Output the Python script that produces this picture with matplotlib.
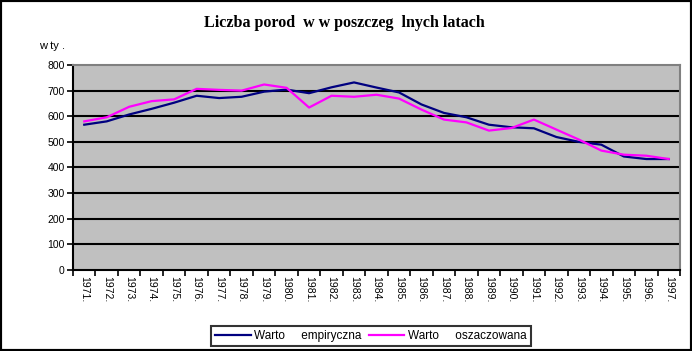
import numpy as np
import matplotlib.pyplot as plt
from matplotlib.patches import Rectangle

years = ['1971.', '1972.', '1973.', '1974.', '1975.', '1976.', '1977.', '1978.', '1979.',
         '1980.', '1981.', '1982.', '1983.', '1984.', '1985.', '1986.', '1987.', '1988.',
         '1989.', '1990.', '1991.', '1992.', '1993.', '1994.', '1995.', '1996.', '1997.']
empiryczna = [567, 580, 607, 629, 653, 680, 671, 676, 696, 704, 690, 713, 732, 712,
              693, 646, 613, 596, 567, 557, 553, 519, 500, 489, 443, 433, 433]
oszacowana = [580, 596, 637, 659, 666, 707, 703, 700, 724, 711, 634, 680, 676, 684,
              669, 626, 587, 576, 544, 554, 587, 548, 509, 466, 450, 446, 433]
yticks = [0, 100, 200, 300, 400, 500, 600, 700, 800]

plt.rcParams['font.family'] = ['Liberation Sans', 'DejaVu Sans']

fig = plt.figure(figsize=(6.92, 3.51), dpi=100)
ax = fig.add_axes([0.1055, 0.2308, 0.8772, 0.584])
ax.set_facecolor('#c0c0c0')

x = np.arange(len(years))
ax.plot(x, empiryczna, color='#000080', lw=1.6, label='Warto     empiryczna', zorder=3)
ax.plot(x, oszacowana, color='#ff00ff', lw=1.6, label='Warto     oszaczowana', zorder=3)

ax.set_xlim(-0.5, len(years) - 0.5)
ax.set_ylim(0, 800)
ax.set_yticks(yticks)
ax.set_yticklabels([str(v) for v in yticks], fontsize=7.5)
for v in yticks[1:-1]:
    ax.axhline(v, color='black', lw=1.5, zorder=1)

ax.set_xticks(x)
ax.set_xticklabels(years, rotation=-90, fontsize=7.5, va='top', ha='center')
ax.set_xticks(np.arange(-0.5, len(years)), minor=True)
ax.tick_params(axis='x', which='major', length=0, pad=4)
ax.tick_params(axis='x', which='minor', length=4, width=1.2, direction='out')
ax.tick_params(axis='y', length=4, width=1.2, direction='out', pad=2)

ax.spines['left'].set_color('black')
ax.spines['left'].set_linewidth(1.5)
ax.spines['bottom'].set_color('black')
ax.spines['bottom'].set_linewidth(1.5)
ax.spines['top'].set_color('#808080')
ax.spines['top'].set_linewidth(1.5)
ax.spines['right'].set_color('#808080')
ax.spines['right'].set_linewidth(1.5)

fig.text(0.497, 0.935, 'Liczba porod  w w poszczeg  lnych latach', ha='center', va='center',
         fontsize=11.5, fontweight='bold', family='Liberation Serif')
fig.text(0.075, 0.87, 'w ty .', ha='center', va='center', fontsize=8)

leg = fig.legend(loc='center', bbox_to_anchor=(0.536, 0.043), ncol=2, fontsize=8.5,
                 frameon=True, fancybox=False, edgecolor='black', handlelength=3.0,
                 handletextpad=0.3, columnspacing=0.6, borderpad=0.35)
leg.get_frame().set_linewidth(1.5)

fig.patches.append(Rectangle((0, 0), 1, 1, transform=fig.transFigure, fill=False,
                             edgecolor='black', lw=3, zorder=10))

fig.savefig('out.png', dpi=100)
